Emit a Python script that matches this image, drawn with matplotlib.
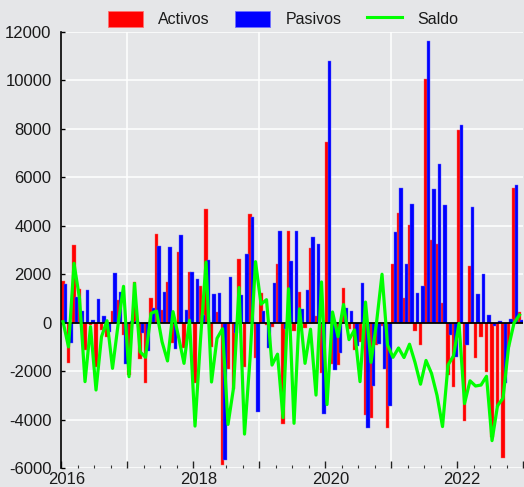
import matplotlib
matplotlib.use("Agg")
import matplotlib.pyplot as plt
import matplotlib.patches as mpatches
import matplotlib.lines as mlines
import matplotlib.transforms as mtransforms
from matplotlib.ticker import FixedLocator, FuncFormatter
import numpy as np

plt.rcParams['font.family'] = ['Liberation Sans', 'DejaVu Sans']
plt.rcParams['axes.unicode_minus'] = False

start_year = 2016
n_months = 84

activos = [1720, -1680, 3206, 1376, -1128, -80, -1844, -316, -605, 495, 935, -523,
           -2160, 1665, -1500, -2504, 1018, 3660, 523, 1679, -826, 2917, -1046, 2105,
           -2504, 1514, 4678, -990, 440, -5890, -1900, -2750, 2614, -1816, 4472, -1472,
           1211, -96, -165, 2408, -4197, 3770, -330, 1266, -206, 3068, 261, -2064,
           7444, -1692, -1748, 1417, -261, -1128, -784, -3811, -3950, -922, -124, -4334,
           2408, 4513, 1032, 4032, -344, -922, 10059, 3412, 3247, 826, -2160, -2642,
           7953, -4045, 2339, -1445, -578, -2023, -4706, -3467, -5600, -990, 5559, 440]

pasivos = [1596, -850, 1046, 480, 1335, 96, 963, 260, -371, 2036, 1280, -1706,
           69, 50, -413, -1156, 605, 3165, 1266, 3137, -1100, 3633, 523, 2105,
           1789, 300, 2587, 1183, 1211, -5670, 1900, -413, 1156, 2821, 4362, -3674,
           482, -1032, 1651, 3798, -275, 2559, 3798, 564, 1348, 3536, 3234, -3784,
           10802, -1968, -1266, 592, 495, -950, 1624, -4362, -2614, -894, -1926, -3440,
           3756, 5573, 2408, 4885, 1211, 1527, 11627, 5504, 6536, 4857, -509, -1431,
           8160, -922, 4761, 1183, 2009, 316, -137, 83, -2504, 137, 5683, 110]

saldo = [40, -1000, 2450, 1000, -2435, -165, -2780, -580, 80, -1885, -100, 1500,
         -2230, 1620, -1200, -1430, 385, 480, -785, -1580, 455, -580, -1680, 100,
         -4270, -700, 2500, -2450, -650, -250, -4200, -2700, 1450, -4600, -1500, 2518,
         760, 950, -1750, -1300, -3920, 1400, -4155, 570, -1680, -270, -2990, 1680,
         -3380, 440, -580, 750, -700, -300, -2436, 850, -1640, 0, 2000, -922,
         -1430, -1045, -1440, -890, -1640, -2540, -1560, -2095, -3000, -4290, -1750, -1370,
         -30, -3340, -2400, -2615, -2575, -2215, -4870, -3430, -3120, -1020, -15, 316]

labels = ["Activos", "Pasivos", "Saldo"]
year_labels = [2016, 2018, 2020, 2022]

bg = '#e5e6e8'
t = start_year + np.arange(n_months) / 12.0
bw = 0.05

fig = plt.figure(figsize=(5.24, 4.87), dpi=100, facecolor=bg)
ax = fig.add_axes([61.3 / 524, 19 / 487, (523.3 - 61.3) / 524, (468 - 32) / 487])
ax.set_facecolor(bg)

ax.set_xlim(2016, 2023)
ax.set_ylim(-6000, 12000)

yt = np.arange(-6000, 12001, 2000)
ax.set_yticks(yt)
for v in yt:
    ax.axhline(v, color='white', lw=1.1, zorder=0)
for yr in [2017, 2019, 2021]:
    ax.axvline(yr, color='white', lw=1.1, zorder=0)

ax.bar(t + 0.026, activos, width=bw, color='#ff0000', edgecolor='#ff6060', linewidth=0.3, zorder=2)
ax.bar(t + 0.064, pasivos, width=bw, color='#0000ff', edgecolor='#6060ff', linewidth=0.3, zorder=3)
ax.axhline(0, color='black', lw=1.3, zorder=4)
ax.plot(t + 0.026, saldo, color='#00ff00', lw=2.3, zorder=5)

for s in ['top', 'right', 'bottom']:
    ax.spines[s].set_visible(False)
ax.spines['left'].set_color('black')
ax.spines['left'].set_linewidth(1.2)

ax.xaxis.set_major_locator(FixedLocator(list(range(2016, 2024))))
ax.xaxis.set_minor_locator(FixedLocator([y + q / 4 for y in range(2016, 2023) for q in (1, 2, 3)]))
ax.xaxis.set_major_formatter(FuncFormatter(lambda v, p: str(int(round(v))) if int(round(v)) in year_labels else ''))
ax.tick_params(axis='x', which='major', direction='in', length=5, width=1, color='#222222',
               labelsize=12, pad=3, labelcolor='#1a1a1a')
ax.tick_params(axis='x', which='minor', direction='in', length=2.5, width=0.8, color='#333333')
ax.tick_params(axis='y', direction='in', length=3, width=1, color='black',
               labelsize=12, pad=7, labelcolor='#1a1a1a')
ax.yaxis.set_major_formatter(FuncFormatter(lambda v, p: str(int(v))))

off = mtransforms.ScaledTranslation(0.05, 0, fig.dpi_scale_trans)
for lab in ax.get_xticklabels():
    lab.set_transform(lab.get_transform() + off)

handles = [mpatches.Patch(facecolor='#ff0000', edgecolor='#ff7070', linewidth=0.6),
           mpatches.Patch(facecolor='#0000ff', edgecolor='#7070ff', linewidth=0.6),
           mlines.Line2D([], [], color='#00ff00', lw=2.2)]
fig.legend(handles, labels, loc='center', bbox_to_anchor=(283 / 524, 1 - 19 / 487),
           ncol=3, frameon=False, fontsize=11.5, handlelength=2.2, handleheight=1.15,
           handletextpad=0.95, columnspacing=1.6, labelcolor='#1a1a1a')

fig.savefig('out.png', dpi=100, facecolor=bg)
